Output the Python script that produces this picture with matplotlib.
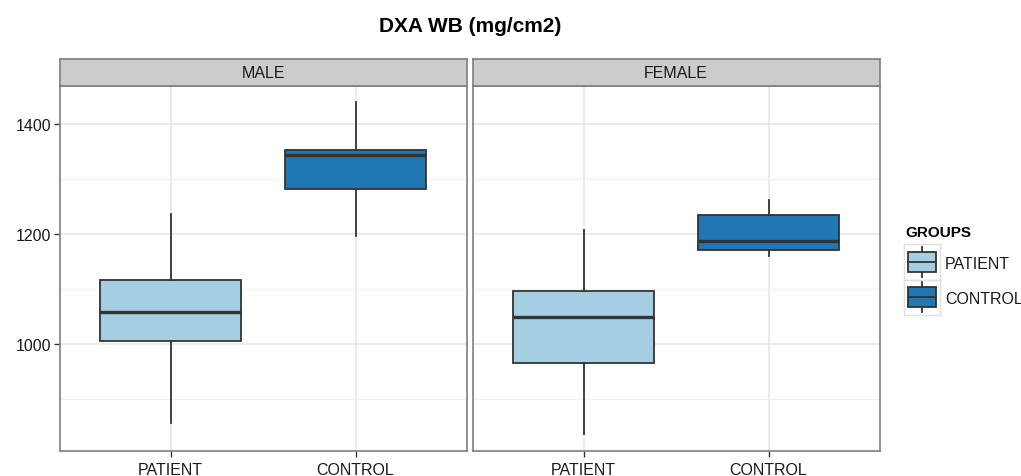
import numpy as np
import matplotlib
matplotlib.use("Agg")
from matplotlib import pyplot as plt
from matplotlib.patches import Rectangle

plt.rcParams['font.family'] = ['Liberation Sans', 'DejaVu Sans']

# data (box stats per panel / group)
panels = ["MALE", "FEMALE"]
groups = ["PATIENT", "CONTROL"]
colors = ["#A6CEE3", "#1F78B4"]
whislo = {"MALE": [856, 1196], "FEMALE": [836, 1161]}
q1 = {"MALE": [1006, 1282], "FEMALE": [965, 1172]}
med = {"MALE": [1059, 1344], "FEMALE": [1049, 1187]}
q3 = {"MALE": [1116, 1353], "FEMALE": [1097, 1235]}
whishi = {"MALE": [1237, 1441], "FEMALE": [1208, 1263]}
yticks = [1000, 1200, 1400]
yminor = [900, 1100, 1300]

W, H = 1021, 477
fig = plt.figure(figsize=(W / 100, H / 100), dpi=100)

edge = "#333333"
border = "#7F7F7F"
lefts = [59.5, 472.5]
pw = 407
pbot, ptop = 452.3, 86.7
strip_top = 60
fs = 11.5

for i, p in enumerate(panels):
    ax = fig.add_axes([lefts[i] / W, 1 - pbot / H, pw / W, (pbot - ptop) / H])
    stats = []
    for j in range(len(groups)):
        stats.append(dict(whislo=whislo[p][j], q1=q1[p][j], med=med[p][j],
                          q3=q3[p][j], whishi=whishi[p][j], fliers=[]))
    b = ax.bxp(stats, positions=[1, 2], widths=0.76, patch_artist=True,
               showcaps=False, manage_ticks=False,
               boxprops=dict(edgecolor=edge, linewidth=1.3),
               whiskerprops=dict(color=edge, linewidth=1.3),
               medianprops=dict(color=edge, linewidth=2.4))
    for patch, c in zip(b["boxes"], colors):
        patch.set_facecolor(c)
    for art in b["boxes"] + b["whiskers"] + b["medians"]:
        art.set_zorder(3)

    ax.set_xlim(0.4, 2.6)
    ax.set_ylim(805, 1470)
    ax.set_xticks([1, 2])
    ax.set_xticklabels(groups)
    ax.set_yticks(yticks)
    ax.set_yticks(yminor, minor=True)
    if i == 0:
        ax.set_yticklabels([str(t) for t in yticks])
    else:
        ax.set_yticklabels([])
    ax.tick_params(axis="both", which="major", labelsize=fs, colors="#333333",
                   length=4, width=1, labelcolor="#1a1a1a", pad=2)
    ax.tick_params(axis="x", which="major", pad=4)
    ax.tick_params(axis="y", which="minor", length=0)
    if i == 1:
        ax.tick_params(axis="y", which="major", length=0)
    ax.grid(True, which="major", color="#E5E5E5", linewidth=1.1, zorder=0)
    ax.grid(True, which="minor", axis="y", color="#F2F2F2", linewidth=0.9, zorder=0)
    ax.set_axisbelow(True)
    for s in ax.spines.values():
        s.set_color(border)
        s.set_linewidth(1.2)

    # facet strip
    sax = fig.add_axes([lefts[i] / W, 1 - ptop / H, pw / W, (ptop - strip_top) / H])
    sax.set_facecolor("#CCCCCC")
    sax.set_xticks([])
    sax.set_yticks([])
    for s in sax.spines.values():
        s.set_color(border)
        s.set_linewidth(1.2)
    sax.text(0.5, 0.5, p, ha="center", va="center", fontsize=fs, color="#1a1a1a",
             transform=sax.transAxes)

fig.text(470 / W, 1 - 27 / H, "DXA WB (mg/cm2)", ha="center", va="center",
         fontsize=15, fontweight="bold", color="#000000")

# legend drawn by hand to mimic ggplot keys
fig.text(905 / W, 1 - 233 / H, "GROUPS", ha="left", va="center",
         fontsize=11, fontweight="bold", color="#000000")
key_top = 245
key_h = 35.5
for k, (g, c) in enumerate(zip(groups, colors)):
    y0 = key_top + k * key_h
    kax = fig.add_axes([904 / W, 1 - (y0 + key_h) / H, 36 / W, key_h / H])
    kax.set_xlim(0, 1)
    kax.set_ylim(0, 1)
    kax.set_xticks([])
    kax.set_yticks([])
    for s in kax.spines.values():
        s.set_color("#E0E0E0")
        s.set_linewidth(1)
    kax.plot([0.5, 0.5], [0.08, 0.92], color=edge, lw=1.3)
    kax.add_patch(Rectangle((0.12, 0.22), 0.76, 0.56, facecolor=c,
                            edgecolor=edge, lw=1.3, zorder=3))
    kax.plot([0.12, 0.88], [0.5, 0.5], color=edge, lw=1.3, zorder=4)
    fig.text(945 / W, 1 - (y0 + key_h / 2 + 1.5) / H, g, ha="left", va="center",
             fontsize=fs, color="#1a1a1a")

fig.savefig("out.png", dpi=100)
